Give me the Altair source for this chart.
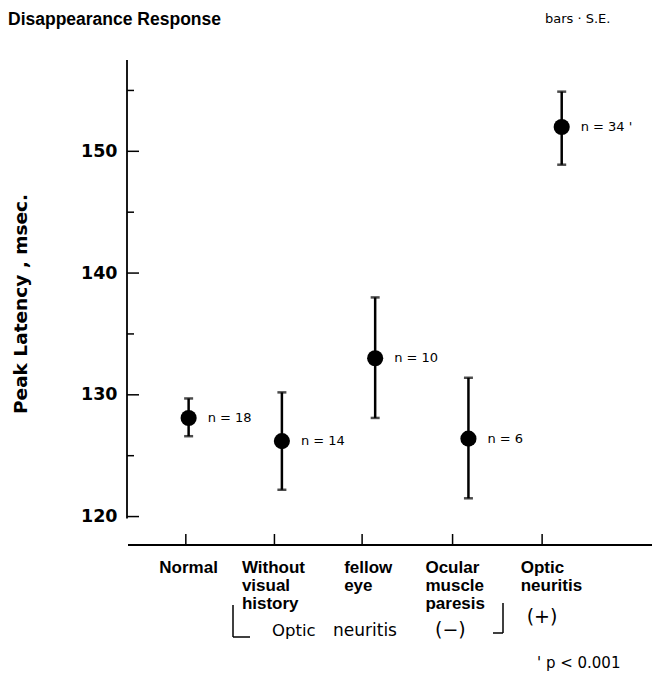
import altair as alt
import pandas as pd

# ---- data ----
groups = ["Normal", "Without visual history", "fellow eye", "Ocular muscle paresis", "Optic neuritis"]
label_lines = ["Normal", "Without\nvisual\nhistory", "fellow\neye", "Ocular\nmuscle\nparesis", "Optic\nneuritis"]
positions = [1, 2, 3, 4, 5]
means = [128.1, 126.2, 133.0, 126.4, 152.0]
upper = [129.7, 130.2, 138.0, 131.4, 154.9]
lower = [126.6, 122.2, 128.1, 121.5, 148.9]
n_labels = ["n = 18", "n = 14", "n = 10", "n = 6", "n = 34 '"]
y_major = [120, 130, 140, 150]
y_minor = [125, 135, 145, 155]
x_ticks = [0.97, 1.92, 2.86, 3.83, 4.79]

df = pd.DataFrame({"group": groups, "label": label_lines, "pos": positions,
                   "mean": means, "hi": upper, "lo": lower, "n": n_labels})

FONT = "DejaVu Sans"
HFONT = "Liberation Sans"
W, H = 524, 487
X0, X1 = 0.35, 0.35 + 524 / 93.27
xs = alt.Scale(domain=[X0, X1], nice=False, zero=False)
ys = alt.Scale(domain=[117.5, 157.5], nice=False, zero=False)

base = alt.Chart(df)

yaxis_labels = alt.Chart(pd.DataFrame({"v": y_major})).mark_rule(opacity=0).encode(
    y=alt.Y("v:Q", scale=ys, axis=alt.Axis(values=y_major, domain=False, ticks=False, grid=False,
                                          labelPadding=11, labelFont=FONT, labelFontSize=17.5,
                                          labelFontWeight="bold", labelColor="black", title=None)),
    x=alt.value(0), x2=alt.value(1))

y_line = alt.Chart(pd.DataFrame({"a": [119.85], "b": [157.5]})).mark_rule(color="black", strokeWidth=1.8).encode(
    x=alt.value(-1), y=alt.Y("a:Q", scale=ys), y2="b:Q")

y_major_ticks = alt.Chart(pd.DataFrame({"v": y_major})).mark_rule(color="black", strokeWidth=1.5).encode(
    y=alt.Y("v:Q", scale=ys), x=alt.value(-1), x2=alt.value(11))
y_minor_ticks = alt.Chart(pd.DataFrame({"v": y_minor})).mark_rule(color="black", strokeWidth=1.5).encode(
    y=alt.Y("v:Q", scale=ys), x=alt.value(-1), x2=alt.value(6))

x_line = alt.Chart(pd.DataFrame({"a": [X0], "b": [X1]})).mark_rule(color="black", strokeWidth=1.8).encode(
    x=alt.X("a:Q", scale=xs, axis=None), x2="b:Q", y=alt.value(H - 2))
x_tick_marks = alt.Chart(pd.DataFrame({"v": x_ticks})).mark_rule(color="black", strokeWidth=1.5).encode(
    x=alt.X("v:Q", scale=xs, axis=None), y=alt.value(H - 2), y2=alt.value(H - 13))

bars = base.mark_rule(color="black", strokeWidth=2.5).encode(
    x=alt.X("pos:Q", scale=xs, axis=None), y=alt.Y("lo:Q", scale=ys), y2="hi:Q")
cap_hi = base.mark_tick(color="black", thickness=2.5, size=9, orient="horizontal").encode(
    x=alt.X("pos:Q", scale=xs, axis=None), y=alt.Y("hi:Q", scale=ys))
cap_lo = base.mark_tick(color="black", thickness=2.5, size=9, orient="horizontal").encode(
    x=alt.X("pos:Q", scale=xs, axis=None), y=alt.Y("lo:Q", scale=ys))
points = base.mark_circle(color="black", opacity=1, size=260).encode(
    x=alt.X("pos:Q", scale=xs, axis=None), y=alt.Y("mean:Q", scale=ys))
nlab = base.mark_text(align="left", baseline="middle", dx=19, font=FONT, fontSize=13, color="black").encode(
    x=alt.X("pos:Q", scale=xs, axis=None), y=alt.Y("mean:Q", scale=ys), text="n:N")

# category labels below axis
label_layers = []
offsets = {"Normal": ("center", 0), "Without visual history": ("left", -40), "fellow eye": ("left", -31),
           "Ocular muscle paresis": ("left", -43), "Optic neuritis": ("left", -41)}
for g in groups:
    al, dx = offsets[g]
    label_layers.append(
        base.transform_filter(alt.datum.group == g).mark_text(
            align=al, dx=dx, baseline="alphabetic", lineBreak="\n", lineHeight=18,
            font=HFONT, fontSize=17, fontWeight="bold", color="black").encode(
            x=alt.X("pos:Q", scale=xs, axis=None), y=alt.value(513), text="label:N"))

plus = base.transform_filter(alt.datum.group == "Optic neuritis").mark_text(
    align="left", dx=-35, baseline="alphabetic", font=FONT, fontSize=19, color="black").encode(
    x=alt.X("pos:Q", scale=xs, axis=None), y=alt.value(563), text=alt.value("(+)"))

def txt(t, x, y, size, weight="normal", align="left", font=FONT):
    return alt.Chart(pd.DataFrame({"t": [t]})).mark_text(
        align=align, baseline="alphabetic", font=font, fontSize=size, fontWeight=weight,
        color="black").encode(x=alt.value(x), y=alt.value(y), text="t:N")

annotations = [
    txt("Disappearance Response", -120, -35, 17.5, "bold", font=HFONT),
    txt("bars  ·  S.E.", 417, -37, 13),
    txt("Optic", 144, 576, 16.5),
    txt("neuritis", 205, 576, 17),
    txt("(−)", 307, 576, 19),
    txt("' p  <  0.001", 409, 608, 15),
]
ytitle = alt.Chart(pd.DataFrame({"t": ["Peak   Latency   ,    msec."]})).mark_text(
    align="center", baseline="middle", font=FONT, fontSize=18.5, fontWeight="bold",
    color="black", angle=270).encode(x=alt.value(-107), y=alt.value(244), text="t:N")

def seg(x1, y1, x2, y2):
    return alt.Chart(pd.DataFrame({"k": [0]})).mark_rule(color="black", strokeWidth=1.5).encode(
        x=alt.value(x1), y=alt.value(y1), x2=alt.value(x2), y2=alt.value(y2))

brackets = [seg(105, 545, 105, 577), seg(105, 577, 122, 577),
            seg(375, 543, 375, 573), seg(365, 573, 375, 573)]

chart = alt.layer(
    yaxis_labels, y_line, y_major_ticks, y_minor_ticks, x_line, x_tick_marks,
    bars, cap_hi, cap_lo, points, nlab, *label_layers, plus, ytitle, *annotations, *brackets
).properties(
    width=W, height=H,
    autosize=alt.AutoSizeParams(type="none"),
    padding={"left": 120, "top": 52, "right": 0, "bottom": 124},
).configure_view(stroke=None)

chart.save("out.html", embed_options={"renderer": "svg", "actions": False})
